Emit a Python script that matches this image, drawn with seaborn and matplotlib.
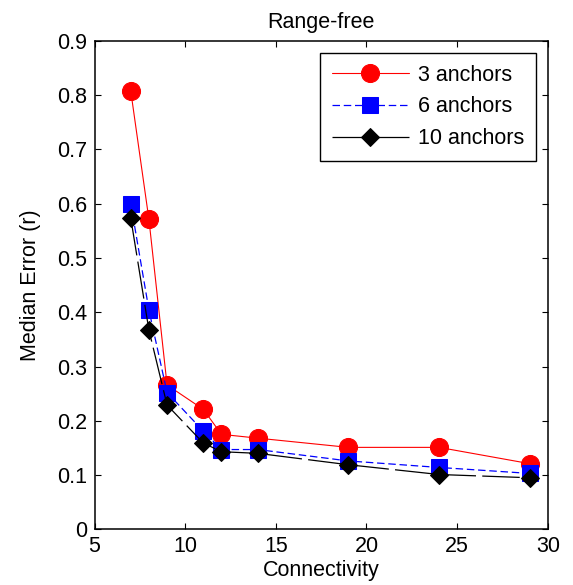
import matplotlib
matplotlib.use("Agg")
import matplotlib.pyplot as plt
import seaborn as sns
import pandas as pd

# Node connectivity (x) and median localisation error in radio ranges (y)
connectivity = [7, 8, 9, 11, 12, 14, 19, 24, 29]
err_3_anchors = [0.807, 0.571, 0.266, 0.221, 0.175, 0.168, 0.151, 0.151, 0.121]
err_6_anchors = [0.600, 0.404, 0.252, 0.181, 0.147, 0.147, 0.126, 0.114, 0.103]
err_10_anchors = [0.573, 0.367, 0.229, 0.159, 0.143, 0.140, 0.119, 0.101, 0.095]

series_labels = ["3 anchors", "6 anchors", "10 anchors"]
x_ticks = [5, 10, 15, 20, 25, 30]
y_ticks = [0, 0.1, 0.2, 0.3, 0.4, 0.5, 0.6, 0.7, 0.8, 0.9]
y_tick_labels = ["0", "0.1", "0.2", "0.3", "0.4", "0.5", "0.6", "0.7", "0.8", "0.9"]

sns.set_theme(style="white")
plt.rcParams["font.family"] = ["Liberation Sans", "DejaVu Sans"]
plt.rcParams["text.color"] = "black"
plt.rcParams["axes.labelcolor"] = "black"
plt.rcParams["xtick.color"] = "black"
plt.rcParams["ytick.color"] = "black"
fs = 15.5

fig = plt.figure(figsize=(5.73, 5.85), dpi=100)
ax = fig.add_axes([0.165, 0.0952, 0.956 - 0.165, 0.930 - 0.0952])

styles = [
    dict(color="#ff0000", marker="o", markersize=13, linestyle="-", linewidth=0.8),
    dict(color="#0000ff", marker="s", markersize=11, linestyle=(0, (6, 3)), linewidth=0.9),
    dict(color="#000000", marker="D", markersize=9, linestyle=(0, (30, 5)), linewidth=0.9),
]

for values, label, st in zip([err_3_anchors, err_6_anchors, err_10_anchors], series_labels, styles):
    df = pd.DataFrame({"Connectivity": connectivity, "err": values})
    sns.lineplot(data=df, x="Connectivity", y="err", ax=ax, sort=False, errorbar=None,
                 label=label, markeredgecolor=st["color"], markerfacecolor=st["color"], **st)

ax.set_xlim(5, 30)
ax.set_ylim(0, 0.9)
ax.set_xticks(x_ticks)
ax.set_xticklabels([str(t) for t in x_ticks])
ax.set_yticks(y_ticks)
ax.set_yticklabels(y_tick_labels)

for side in ["left", "right", "top", "bottom"]:
    ax.spines[side].set_visible(True)
    ax.spines[side].set_color("black")
    ax.spines[side].set_linewidth(1.1)

ax.tick_params(axis="both", which="both", direction="in", length=4, width=0.8,
               colors="black", labelcolor="black", labelsize=fs, top=True, right=True,
               bottom=True, left=True)
ax.tick_params(axis="x", pad=5)
ax.tick_params(axis="y", pad=5)

ax.set_xlabel("Connectivity", fontsize=fs, labelpad=2, color="black")
ax.set_ylabel("Median Error (r)", fontsize=fs, labelpad=12, color="black")
ax.set_title("Range-free", fontsize=fs, pad=9, color="black")

leg = ax.legend(loc="upper right", fontsize=fs, frameon=True, fancybox=False,
                edgecolor="black", framealpha=1, handlelength=3.6,
                labelspacing=0.5, borderaxespad=0.55, borderpad=0.55,
                handletextpad=0.4)
leg.get_frame().set_linewidth(1.0)
for t in leg.get_texts():
    t.set_color("black")

fig.savefig("out.png", dpi=100)
